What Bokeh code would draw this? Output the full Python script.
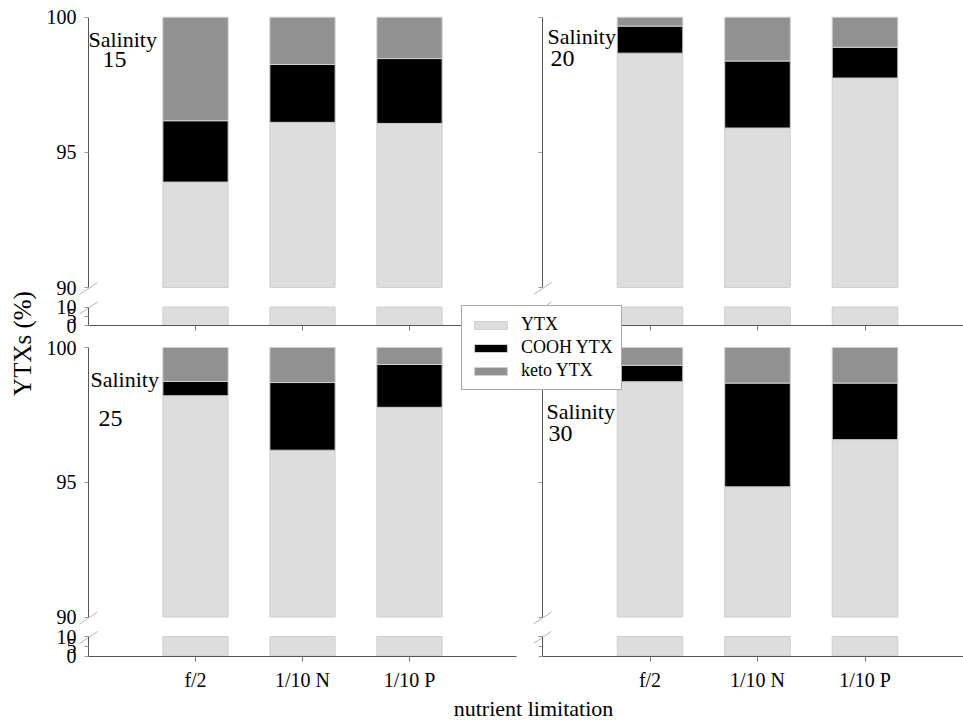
import numpy as np
from bokeh.plotting import figure
from bokeh.models import Range1d, LinearAxis, FixedTicker, Label, Legend, LegendItem
from bokeh.embed import file_html
from bokeh.resources import INLINE

# ---------------- data ----------------
categories = ["f/2", "1/10 N", "1/10 P"]
salinity_labels = ["15", "20", "25", "30"]

ytx_s15 = [93.90, 96.11, 96.07]
cooh_s15 = [2.27, 2.14, 2.40]
keto_s15 = [3.83, 1.75, 1.53]

ytx_s20 = [98.67, 95.90, 97.75]
cooh_s20 = [1.00, 2.48, 1.14]
keto_s20 = [0.33, 1.62, 1.11]

ytx_s25 = [98.21, 96.19, 97.78]
cooh_s25 = [0.53, 2.51, 1.59]
keto_s25 = [1.26, 1.30, 0.63]

ytx_s30 = [98.73, 94.83, 96.58]
cooh_s30 = [0.61, 3.85, 2.10]
keto_s30 = [0.66, 1.32, 1.32]

upper_ticks = [90, 95, 100]
lower_ticks = [0, 5, 10]
series_names = ["YTX", "COOH YTX", "keto YTX"]

# ---------------- layout / style ----------------
W, H = 963, 724
FONT = "Liberation Serif"
C_YTX, C_COOH, C_KETO = "#dddddd", "#000000", "#919191"
AXIS_C = "#555555"

col_x0 = [88, 542]          # canvas x of each column's y axis
col_step = [107.0, 107.5]   # pixels per category step
row_upper = [(16.7, 287.0), (347.0, 616.5)]   # canvas y of 100 and 90
row_lower = [(306.5, 325.0), (636.0, 655.5)]  # canvas y of 10 and 0


def yrange(a, b, y_top, y_bot):
    k = (y_bot - y_top) / (b - a)
    return Range1d(a - (H - y_bot) / k, b + y_top / k)


def xrange(x0, s):
    return Range1d(-x0 / s, (W - x0) / s)


p = figure(width=W, height=H, x_range=Range1d(0, W), y_range=Range1d(H, 0),
           output_backend="svg", toolbar_location=None,
           x_axis_location=None, y_axis_location=None,
           min_border=0, outline_line_color=None)
p.grid.visible = False

seg_u = (upper_ticks[0], upper_ticks[-1])
seg_l = (lower_ticks[0], lower_ticks[-1])

for c in range(2):
    p.extra_x_ranges[f"x{c}"] = xrange(col_x0[c], col_step[c])
for r in range(2):
    p.extra_y_ranges[f"u{r}"] = yrange(seg_u[0], seg_u[1], *row_upper[r])
    p.extra_y_ranges[f"l{r}"] = yrange(seg_l[0], seg_l[1], *row_lower[r])

panels = [
    (ytx_s15, cooh_s15, keto_s15, 0, 0),
    (ytx_s20, cooh_s20, keto_s20, 0, 1),
    (ytx_s25, cooh_s25, keto_s25, 1, 0),
    (ytx_s30, cooh_s30, keto_s30, 1, 1),
]

xpos = np.arange(1, len(categories) + 1)
BAR_W = 0.61
legend_renderers = None

for ytx, cooh, keto, r, c in panels:
    ytx = np.array(ytx)
    cooh = np.array(cooh)
    keto = np.array(keto)
    xr, yu, yl = f"x{c}", f"u{r}", f"l{r}"
    r1 = p.vbar(x=xpos, bottom=seg_u[0], top=ytx, width=BAR_W, fill_color=C_YTX,
                line_color="#cfcfcf", line_width=1, x_range_name=xr, y_range_name=yu)
    r2 = p.vbar(x=xpos, bottom=ytx, top=ytx + cooh, width=BAR_W, fill_color=C_COOH,
                line_color="#cfcfcf", line_width=1, x_range_name=xr, y_range_name=yu)
    r3 = p.vbar(x=xpos, bottom=ytx + cooh, top=ytx + cooh + keto, width=BAR_W,
                fill_color=C_KETO, line_color="#cfcfcf", line_width=1,
                x_range_name=xr, y_range_name=yu)
    p.vbar(x=xpos, bottom=seg_l[0], top=np.minimum(ytx, seg_l[1]), width=BAR_W,
           fill_color=C_YTX, line_color="#cfcfcf", line_width=1,
           x_range_name=xr, y_range_name=yl)
    if legend_renderers is None:
        legend_renderers = [r1, r2, r3]

    show_y = (c == 0)
    for yname, ticks, bnds in ((yu, upper_ticks, seg_u), (yl, lower_ticks, seg_l)):
        ax = LinearAxis(x_range_name=xr, y_range_name=yname, fixed_location=0,
                        bounds=bnds, ticker=FixedTicker(ticks=ticks),
                        major_tick_out=4, major_tick_in=0,
                        minor_tick_out=0, minor_tick_in=0,
                        axis_line_color=AXIS_C, axis_line_width=1,
                        major_tick_line_color="#999999",
                        major_label_text_font=FONT,
                        major_label_text_font_size="20px",
                        major_label_text_color="black",
                        major_label_standoff=8)
        if not show_y:
            ax.major_label_overrides = {t: "" for t in ticks}
        p.add_layout(ax, "left")

    xa = LinearAxis(x_range_name=xr, y_range_name=yl, fixed_location=0,
                    bounds=(0, len(categories) + 1), ticker=FixedTicker(ticks=list(xpos)),
                    major_tick_out=5, major_tick_in=0,
                    minor_tick_out=0, minor_tick_in=0,
                    axis_line_color=AXIS_C, axis_line_width=1,
                    major_tick_line_color="#777777",
                    major_label_text_font=FONT,
                    major_label_text_font_size="20px",
                    major_label_text_color="black",
                    major_label_standoff=8)
    if r == 1:
        xa.major_label_overrides = {int(i): lab for i, lab in zip(xpos, categories)}
    else:
        xa.major_label_overrides = {int(i): "" for i in xpos}
    p.add_layout(xa, "below")

    # axis break marks
    ax_x = col_x0[c]
    for yc in (row_upper[r][1] + 1, row_lower[r][0] + 1):
        p.segment(x0=[ax_x - 9], y0=[yc + 6], x1=[ax_x + 9], y1=[yc - 6],
                  line_color="#b5b5b5", line_width=1)

# Salinity labels (y = vertical centre of the text)
sal_pos = [((88, 39), (102, 59)), ((547, 36), (550, 58)),
           ((90, 379), (98, 418)), ((546, 411), (548, 433))]
for lab, ((sx, sy), (nx, ny)) in zip(salinity_labels, sal_pos):
    p.add_layout(Label(x=sx, y=sy, text="Salinity", text_font=FONT, text_color="black",
                       text_font_size="22px", text_baseline="middle"))
    p.add_layout(Label(x=nx, y=ny, text=lab, text_font=FONT, text_color="black",
                       text_font_size="24px", text_baseline="middle"))

# axis titles
p.add_layout(Label(x=22, y=343, text="YTXs (%)", angle=np.pi / 2, text_font=FONT,
                   text_color="black", text_font_size="25px",
                   text_align="center", text_baseline="middle"))
p.add_layout(Label(x=533, y=708, text="nutrient limitation", text_font=FONT,
                   text_color="black", text_font_size="22px",
                   text_align="center", text_baseline="middle"))

legend = Legend(items=[LegendItem(label=n, renderers=[rr])
                       for n, rr in zip(series_names, legend_renderers)],
                location=(461, H - 390), orientation="vertical",
                glyph_width=41, glyph_height=10, label_height=19, label_standoff=10,
                padding=8, spacing=2, margin=0,
                border_line_color="#555555", border_line_width=1,
                background_fill_color="white", background_fill_alpha=1,
                label_text_font=FONT, label_text_font_size="18px",
                label_text_color="black")
p.add_layout(legend)

open("out.html", "w").write(file_html(p, INLINE))
